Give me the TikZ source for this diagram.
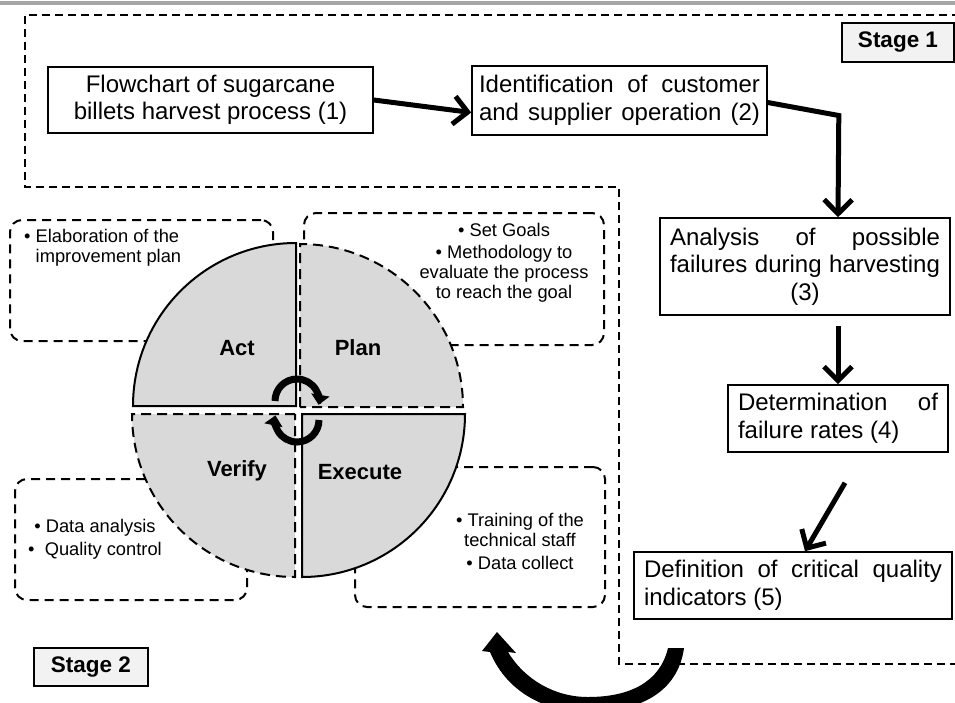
\documentclass[tikz,border=0pt]{standalone}
\usepackage{fontspec}
\setmainfont{Liberation Sans}
\usetikzlibrary{arrows.meta,calc}
\definecolor{quadfill}{HTML}{D9D9D9}
\definecolor{stagefill}{HTML}{F2F2F2}
\definecolor{rulegray}{HTML}{A6A6A6}
\tikzset{
  flowbox/.style={draw=black, line width=1.6pt, inner sep=0pt, font=\fontsize{24}{27.5}\selectfont, align=center},
  stagebox/.style={draw=black, fill=stagefill, line width=1.6pt, inner sep=0pt, font=\bfseries\fontsize{22.5}{27}\selectfont},
  notebox/.style={draw=black, line width=2pt, dash pattern=on 9pt off 6pt, rounded corners=12pt, inner sep=0pt},
  notetext/.style={inner sep=0pt, font=\fontsize{18.3}{20}\selectfont, align=center},
  quadlabel/.style={inner sep=0pt, font=\bfseries\fontsize{22}{26}\selectfont},
  flowarrow/.style={line width=5pt, -{Straight Barb[length=14pt,width=28pt]}},
  solidquad/.style={fill=quadfill, draw=black, line width=2pt},
  dashquad/.style={fill=quadfill, draw=black, line width=2pt, dash pattern=on 10pt off 6pt},
  regionline/.style={line width=1.6pt, dash pattern=on 8pt off 5pt},
  cyclearrow/.style={line width=7pt, -{Triangle[length=10pt,width=18pt]}},
}
\begin{document}
\begin{tikzpicture}[x=1pt,y=1pt,yscale=-1]
\useasboundingbox (0,0) rectangle (955,702);
\fill[rulegray] (0,1) rectangle (955,5);
\draw[regionline] (960,15) -- (25,15) -- (25,187) -- (619,187) -- (619,664) -- (960,664);

% note boxes
\node[notebox, minimum width=263pt, minimum height=121pt] (actbox) at (141.5,280.5) {};
\node[notebox, minimum width=300pt, minimum height=132pt] (planbox) at (454,279) {};
\node[notebox, minimum width=232pt, minimum height=121pt] (verifybox) at (131,539.5) {};
\node[notebox, minimum width=250pt, minimum height=140pt] (executebox) at (480,537) {};

% PDCA quadrants
\filldraw[solidquad] (296,406) -- (133,406) arc[start angle=180,end angle=270,radius=163] -- cycle;
\filldraw[dashquad] (300,407) -- (300,244) arc[start angle=270,end angle=360,radius=163] -- cycle;
\filldraw[dashquad] (295,414) -- (132,414) arc[start angle=180,end angle=90,radius=163] -- cycle;
\filldraw[solidquad] (302,414) -- (465,414) arc[start angle=0,end angle=90,radius=163] -- cycle;

\draw[cyclearrow] (275,401) arc[start angle=180,end angle=370,radius=22];
\draw[cyclearrow] (319,420) arc[start angle=0,end angle=192,radius=22];

\node[quadlabel] (actlbl) at (237,348) {Act};
\node[quadlabel] (planlbl) at (358,348) {Plan};
\node[quadlabel] (verifylbl) at (237,471) {Verify};
\node[quadlabel] (executelbl) at (360,472) {Execute};

% note texts
\node[notetext, anchor=north west, align=left] (acttxt) at (24,229) {• Elaboration of the\\\hspace*{11.5pt}improvement plan};
\node[notetext] (plantxt) at (504,263) {• Set Goals\\[2pt] • Methodology to\\ evaluate the process\\ to reach the goal};
\node[notetext, font=\fontsize{18.3}{23}\selectfont] (verifytxt) at (95,539) {• Data analysis\\ •\ \ Quality control};
\node[notetext] (executetxt) at (520,541) {• Training of the\\ technical staff\\[3pt] • Data collect};

% flow boxes
\node[flowbox, minimum width=325pt, minimum height=66pt] (b1) at (210.5,100) {Flowchart of sugarcane\\ billets harvest process (1)};
\node[flowbox, minimum width=295pt, minimum height=69pt] (b2) at (619.5,100.5) {\makebox[281pt][s]{Identification of customer}\\ \makebox[281pt][s]{and supplier operation (2)}};
\node[flowbox, minimum width=290pt, minimum height=97pt] (b3) at (805,266.5) {\makebox[270pt][s]{Analysis of possible}\\ \makebox[270pt][s]{failures during harvesting}\\ (3)};
\node[flowbox, minimum width=220pt, minimum height=67pt] (b4) at (838,418.5) {\makebox[200pt][s]{Determination of}\\ \makebox[200pt][l]{failure rates (4)}};
\node[flowbox, minimum width=318pt, minimum height=67pt] (b5) at (793,585.5) {\makebox[298pt][s]{Definition of critical quality}\\ \makebox[298pt][l]{indicators (5)}};

\node[stagebox, minimum width=112pt, minimum height=39pt] (s1) at (898,42.5) {Stage 1};
\node[stagebox, minimum width=114pt, minimum height=38pt] (s2) at (91,667) {Stage 2};

% flow arrows
\draw[flowarrow] (b1.east) -- ($(b2.west)+(0,12)$);
\draw[flowarrow] ($(b2.east)+(0,2)$) -- ++(71,13) -- ($(b3.north)+(33,0)$);
\draw[flowarrow] ($(b3.south)+(33,10)$) -- (b4.north);
\draw[flowarrow] ($(b4.south)+(7,30)$) -- ($(b5.north)+(12,0)$);

% big curved return arrow
\fill (684,648) .. controls (678,692) and (640,712) .. (588,712) .. controls (540,712) and (505,688) .. (490,652) -- (482,651) -- (497,632) -- (516,653) -- (508,652) .. controls (525,680) and (555,697) .. (588,697) .. controls (630,697) and (660,682) .. (668,648) -- cycle;
\end{tikzpicture}
\end{document}
